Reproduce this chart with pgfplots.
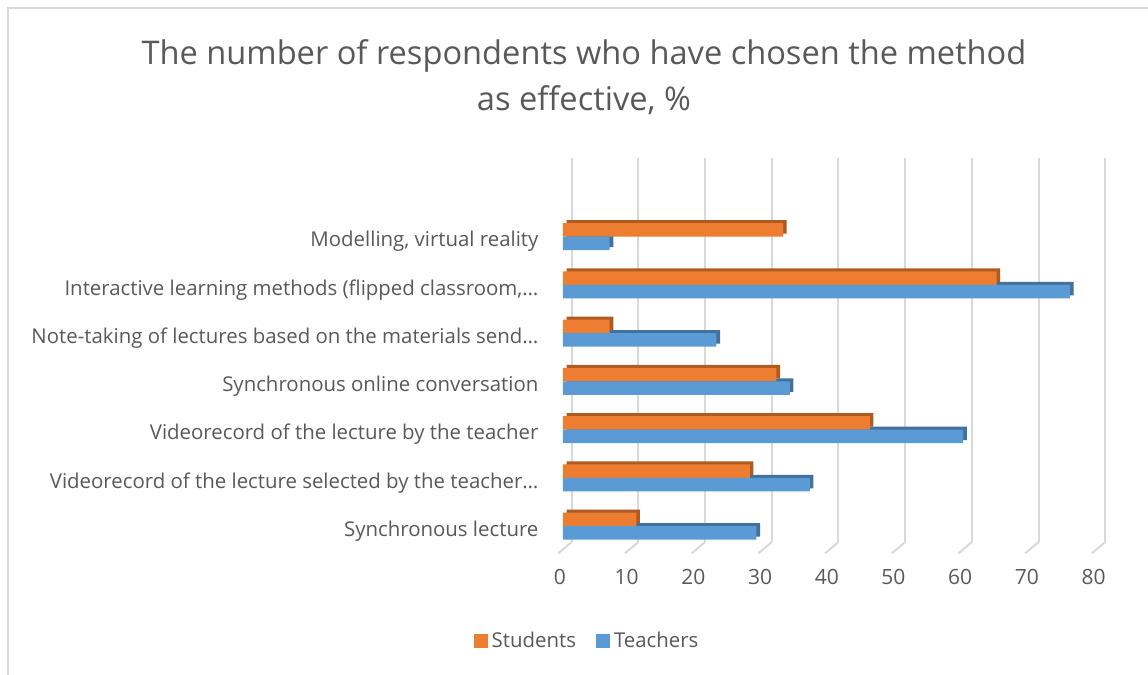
\documentclass[border=0pt]{standalone}
\usepackage{pgfplots}
\pgfplotsset{compat=1.18}
\usepackage{fontspec}
\setmainfont{Open Sans}
\definecolor{orangec}{HTML}{ED7D31}
\definecolor{orangedark}{HTML}{AE5A21}
\definecolor{bluec}{HTML}{5B9BD5}
\definecolor{bluedark}{HTML}{41719C}
\definecolor{gridcol}{HTML}{D9D9D9}
\definecolor{textcol}{HTML}{595959}
\begin{document}
\begin{tikzpicture}
\path[use as bounding box] (0,0) rectangle (574pt,337.5pt);
\draw[gridcol, line width=1pt] (4pt,0) -- (4pt,333.5pt) -- (574pt,333.5pt);
\node[text=textcol, align=center, font=\fontsize{16.3pt}{23pt}\selectfont] at (292pt,299pt)
 {The number of respondents who have chosen the method\\as effective, \%};
\begin{axis}[
 scale only axis, width=266.8pt, height=192pt,
 at={(281.5pt,66.5pt)}, anchor=south west,
 xbar, xmin=0, xmax=80, ymin=-0.33, ymax=7.63,
 bar width=0.28,
 xtick={0,10,...,80}, ytick={0,...,6},
 yticklabels={{Synchronous lecture},
   {Videorecord of the lecture selected by the teacher…},
   {Videorecord of the lecture by the teacher},
   {Synchronous online conversation},
   {Note-taking of lectures based on the materials send…},
   {Interactive learning methods (flipped classroom,…},
   {Modelling, virtual reality}},
 xmajorgrids, major grid style={draw=gridcol, line width=1pt, xshift=4.35pt},
 axis line style={draw=none}, tick style={draw=none},
 clip=false,
 /pgf/number format/assume math mode=true,
 xticklabel style={text=textcol, font=\fontsize{10.5pt}{12pt}\selectfont, yshift=-10pt, xshift=-1.5pt},
 yticklabel style={text=textcol, font=\fontsize{10.2pt}{12pt}\selectfont, xshift=-4.5pt, yshift=-2.5pt},
 legend style={draw=none, at={(0.047,-0.258)}, anchor=center, legend columns=2,
   font=\fontsize{10.2pt}{12pt}\selectfont, text=textcol,
   /tikz/every even column/.append style={column sep=8pt}},
 legend image code/.code={\fill[#1,draw=none] (0pt,-3.5pt) rectangle (7pt,3.5pt);},
]
\pgfplotsinvokeforeach{0,10,...,80}{
 \draw[gridcol, line width=1pt] ([xshift=4.35pt]axis cs:#1,-0.33) -- ([xshift=-2.35pt,yshift=-5.65pt]axis cs:#1,-0.33);
}
\addplot[forget plot, fill=orangedark, draw=none, bar shift=0.14, xshift=1.8pt, yshift=1.5pt] coordinates {(11,0) (28,1) (46,2) (32,3) (7,4) (65,5) (33,6)};
\addplot[forget plot, fill=bluedark, draw=none, bar shift=-0.14, xshift=1.8pt, yshift=1.5pt] coordinates {(29,0) (37,1) (60,2) (34,3) (23,4) (76,5) (7,6)};
\addplot[fill=orangec, draw=none, bar shift=0.14] coordinates {(11,0) (28,1) (46,2) (32,3) (7,4) (65,5) (33,6)};
\addplot[fill=bluec, draw=none, bar shift=-0.14] coordinates {(29,0) (37,1) (60,2) (34,3) (23,4) (76,5) (7,6)};
\legend{Students, Teachers}
\end{axis}
\end{tikzpicture}
\end{document}
